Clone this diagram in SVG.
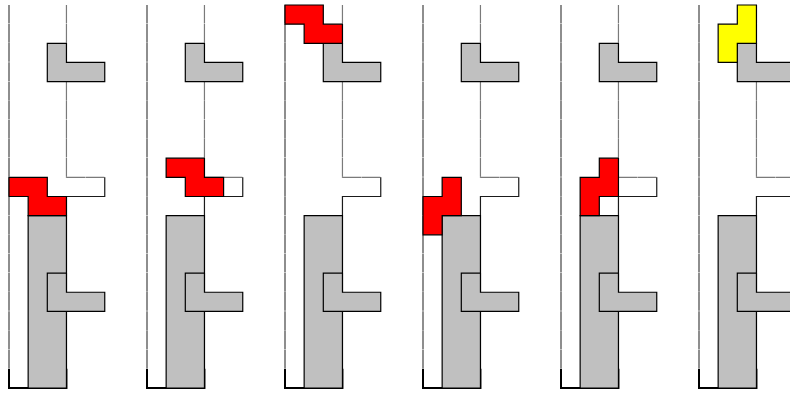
<svg xmlns="http://www.w3.org/2000/svg" xmlns:xlink="http://www.w3.org/1999/xlink" width="790" height="393" viewBox="0 0 790 393">
<style>
.wall{fill:none;stroke:#444;stroke-width:1.2;stroke-dasharray:18.75 0.4;stroke-dashoffset:0.2}
.wallr{fill:none;stroke:#7a7a7a;stroke-width:1.2;stroke-dasharray:18.75 0.4;stroke-dashoffset:0.2}
.edge{fill:none;stroke:#1a1a1a;stroke-width:1.2}
.floor{fill:none;stroke:#000;stroke-width:2}
.gray{fill:#c0c0c0;stroke:#000;stroke-width:1.2;stroke-linejoin:miter}
.red{fill:#ff0000;stroke:#000;stroke-width:1.2}
.yellow{fill:#ffff00;stroke:#000;stroke-width:1.2}
</style>
<defs>
<g id="well">
<path class="wall" d="M0,0 V363.85"/>
<path class="wallr" d="M57.45,0 V172.35 H95.75"/>
<path class="edge" d="M95.75,172.35 V191.5 H57.45 V363.85"/>
<path class="floor" d="M0,363.85 V383 H57.45 V363.85"/>
<path class="gray" d="M19.15,210.65 H57.45 V383 H19.15 Z"/>
<path class="gray" d="M38.3,268.1 H57.45 V287.25 H95.75 V306.4 H38.3 Z"/>
<path class="gray" d="M38.3,38.3 H57.45 V57.45 H95.75 V76.6 H38.3 Z"/>
</g>
</defs>
<rect width="790" height="393" fill="#fff"/>
<g id="panel1" transform="translate(9,5)">
<use xlink:href="#well"/>
<path class="red" d="M0,172.35 H38.3 V191.5 H57.45 V210.65 H19.15 V191.5 H0 Z"/>
</g>
<g id="panel2" transform="translate(147,5)">
<use xlink:href="#well"/>
<path class="red" d="M19.15,153.2 H57.45 V172.35 H76.6 V191.5 H38.3 V172.35 H19.15 Z"/>
</g>
<g id="panel3" transform="translate(285,5)">
<use xlink:href="#well"/>
<path class="red" d="M0,0 H38.3 V19.15 H57.45 V38.3 H19.15 V19.15 H0 Z"/>
</g>
<g id="panel4" transform="translate(423,5)">
<use xlink:href="#well"/>
<path class="red" d="M19.15,172.35 H38.3 V210.65 H19.15 V229.8 H0 V191.5 H19.15 Z"/>
</g>
<g id="panel5" transform="translate(561,5)">
<use xlink:href="#well"/>
<path class="red" d="M38.3,153.2 H57.45 V191.5 H38.3 V210.65 H19.15 V172.35 H38.3 Z"/>
</g>
<g id="panel6" transform="translate(699,5)">
<use xlink:href="#well"/>
<path class="yellow" d="M38.3,0 H57.45 V38.3 H38.3 V57.45 H19.15 V19.15 H38.3 Z"/>
</g>
<g id="connectors"/>
</svg>
